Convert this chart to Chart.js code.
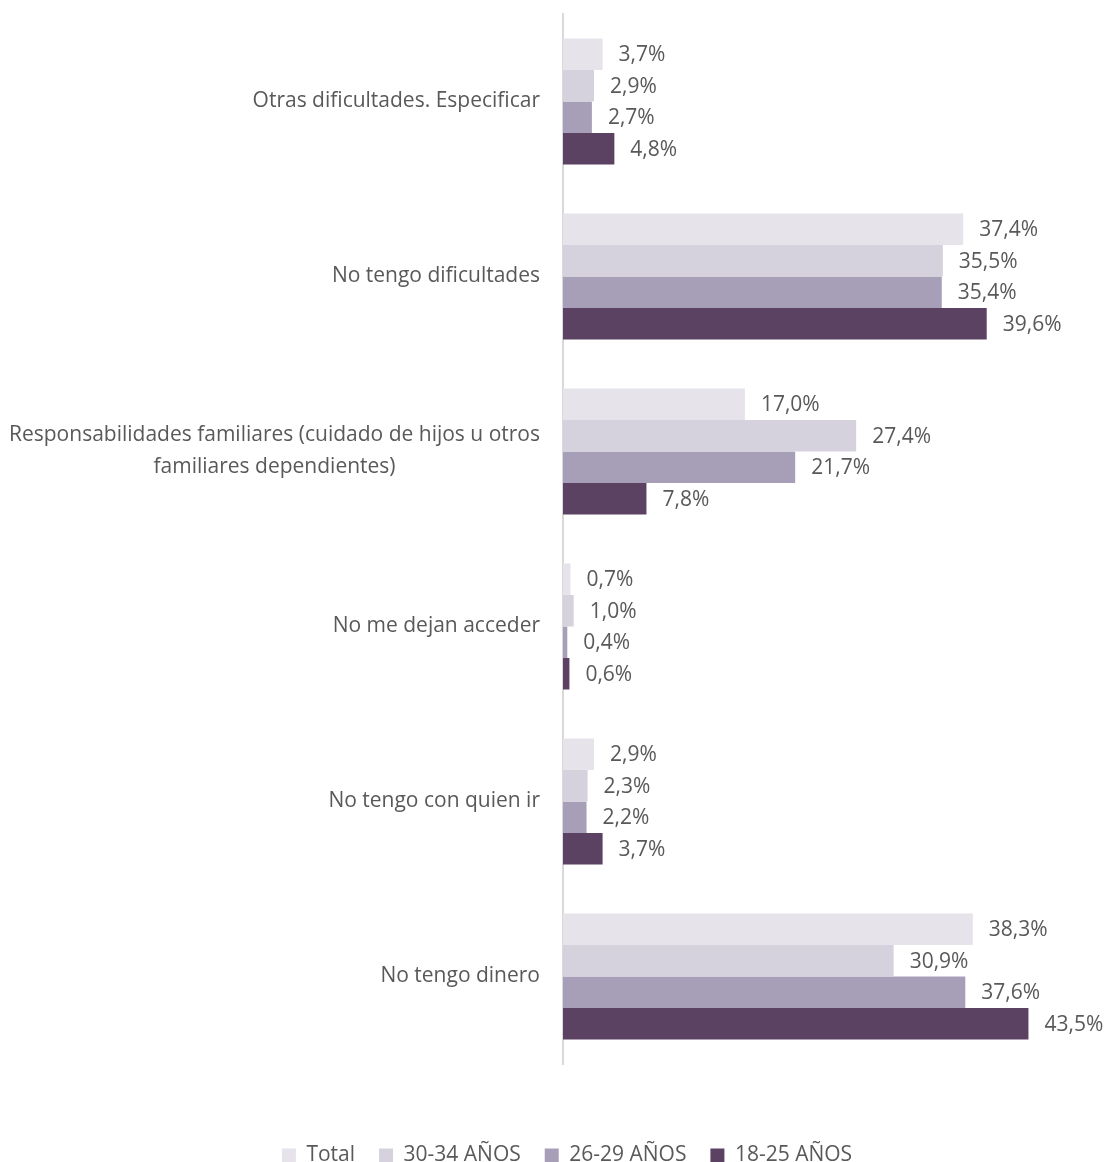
<!DOCTYPE html>
<html>
<head>
<meta charset="utf-8">
<script src="https://cdn.jsdelivr.net/npm/chart.js@4.4.1/dist/chart.umd.min.js"></script>
<style>
  html, body { margin: 0; padding: 0; background: #ffffff; overflow: hidden; }
  #wrap { width: 1109px; height: 1162px; overflow: hidden; }
</style>
</head>
<body>
<div id="wrap"><canvas id="c" width="1109" height="1190"></canvas></div>
<script>
const categories = [
  "Otras dificultades. Especificar",
  "No tengo dificultades",
  ["Responsabilidades familiares (cuidado de hijos u otros", "familiares dependientes)"],
  "No me dejan acceder",
  "No tengo con quien ir",
  "No tengo dinero"
];
const seriesNames = ["Total", "30-34 AÑOS", "26-29 AÑOS", "18-25 AÑOS"];
const total   = [3.7, 37.4, 17.0, 0.7, 2.9, 38.3];
const age3034 = [2.9, 35.5, 27.4, 1.0, 2.3, 30.9];
const age2629 = [2.7, 35.4, 21.7, 0.4, 2.2, 37.6];
const age1825 = [4.8, 39.6, 7.8, 0.6, 3.7, 43.5];
const colors = ["#E6E3EB", "#D6D2DD", "#A79FB8", "#5B4262"];

const FONT = "'Open Sans', 'Noto Sans', sans-serif";
const TEXT = "#595959";
const FS = 21;

const seriesValues = [total, age3034, age2629, age1825];

const catLabelPlugin = {
  id: 'catLabels',
  afterDraw(chart) {
    const ctx = chart.ctx;
    const y = chart.scales.y;
    ctx.save();
    ctx.font = FS + "px " + FONT;
    ctx.fillStyle = TEXT;
    ctx.textBaseline = 'middle';
    ctx.textAlign = 'center';
    const right = y.right - 23;
    categories.forEach((lab, i) => {
      const lines = Array.isArray(lab) ? lab : [lab];
      const maxW = Math.max(...lines.map(l => ctx.measureText(l).width));
      const cx = right - maxW / 2;
      const cy = y.getPixelForTick(i);
      const lh = 32;
      lines.forEach((l, k) => {
        ctx.fillText(l, cx, cy + (k - (lines.length - 1) / 2) * lh);
      });
    });
    ctx.restore();
  }
};

const valueLabelPlugin = {
  id: 'valueLabels',
  afterDatasetsDraw(chart) {
    const ctx = chart.ctx;
    ctx.save();
    ctx.font = FS + "px " + FONT;
    ctx.fillStyle = TEXT;
    ctx.textBaseline = 'middle';
    ctx.textAlign = 'left';
    chart.data.datasets.forEach((ds, di) => {
      const meta = chart.getDatasetMeta(di);
      meta.data.forEach((bar, i) => {
        const v = ds.data[i];
        ctx.fillText(v.toFixed(1).replace('.', ',') + '%', bar.x + 16, bar.y + 1);
      });
    });
    ctx.restore();
  }
};

new Chart(document.getElementById('c'), {
  type: 'bar',
  data: {
    labels: categories.map(c => Array.isArray(c) ? c.join(' ') : c),
    datasets: seriesNames.map((n, i) => ({
      label: n,
      data: seriesValues[i],
      backgroundColor: colors[i],
      borderWidth: 0,
      categoryPercentage: 0.72,
      barPercentage: 1.0
    }))
  },
  options: {
    indexAxis: 'y',
    responsive: false,
    animation: false,
    layout: { padding: { top: 14, right: 11, left: 36, bottom: 14 } },
    scales: {
      x: {
        min: 0, max: 50,
        grid: { display: false },
        border: { display: false },
        ticks: { display: false },
        afterFit(scale) { scale.height = 57; }
      },
      y: {
        grid: { display: false },
        border: { display: true, color: '#D9D9D9', width: 2 },
        ticks: { display: false },
        afterFit(scale) { scale.width = 527; }
      }
    },
    plugins: {
      legend: {
        position: 'bottom',
        labels: {
          font: { family: FONT, size: FS },
          color: TEXT,
          boxWidth: 14,
          boxHeight: 14,
          padding: 24
        }
      },
      tooltip: { enabled: false }
    }
  },
  plugins: [catLabelPlugin, valueLabelPlugin]
});
</script>
</body>
</html>
